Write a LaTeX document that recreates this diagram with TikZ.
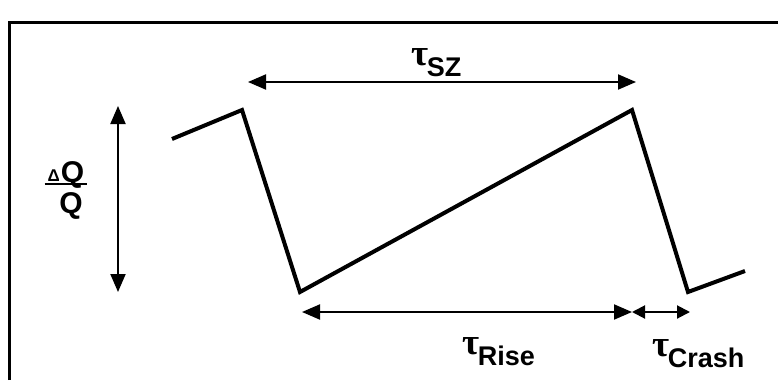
\documentclass[tikz,border=0pt]{standalone}
\usepackage{fontspec}
\setsansfont{Liberation Sans}
\newfontfamily\taufont{Liberation Serif}
\usetikzlibrary{arrows.meta, positioning}
\newcommand{\tausub}[1]{{\taufont\bfseries\fontsize{37}{37}\selectfont τ}\kern-1.5pt\raisebox{-11pt}{#1}}
\tikzset{
    font=\sffamily,
    >={Triangle[length=18pt,width=15pt]},
    % Lines
    frame/.style={line width=3pt},
    signal/.style={line width=4pt, line join=miter},
    span/.style={<->, line width=2pt},
    shortspan/.style={{Triangle[length=13pt,width=13pt]}-{Triangle[length=13pt,width=13pt]}, line width=2pt},
    % Labels
    lbl/.style={inner sep=0pt, font=\sffamily\bfseries\fontsize{27}{29}\selectfont},
    qlbl/.style={inner sep=0pt, anchor=base, font=\sffamily\bfseries\fontsize{30}{32}\selectfont},
}

\begin{document}
\begin{tikzpicture}[x=1pt, y=-1pt]
\useasboundingbox (0,0) rectangle (778,380);

% frame
\coordinate (frameBL) at (9,380);
\coordinate (frameTL) at (9,22);
\coordinate (frameTR) at (778,22);
\draw[frame] (frameBL) -- (frameTL) -- (frameTR);

% sawtooth
\coordinate (start) at (172,139);
\coordinate (peakA) at (242,110);
\coordinate (valleyA) at (300,292);
\coordinate (peakB) at (632,110);
\coordinate (valleyB) at (688,292);
\coordinate (stop) at (745,271);
\draw[signal] (start) -- (peakA) -- (valleyA) -- (peakB) -- (valleyB) -- (stop);

% period
\coordinate (szL) at (248,82);
\coordinate (szR) at (636,82);
\draw[span] (szL) -- (szR);
\node[lbl, above right=5pt and 163pt of szL] (tsz) {\tausub{SZ}};

% amplitude
\coordinate (dqT) at (118,106);
\coordinate (dqB) at (118,292);
\draw[span] (dqT) -- (dqB);
\node[qlbl, inner xsep=3pt] (dqnum) at (66,182) {\raisebox{1pt}{\fontsize{17}{17}\selectfont Δ}\kern1pt Q};
\node[qlbl] (dqden) at (71,213) {Q};
\draw[line width=2pt] ([yshift=-1.5pt]dqnum.base west) -- ([yshift=-1.5pt]dqnum.base east);

% rise and crash
\coordinate (riseL) at (302,312);
\coordinate (riseR) at (632,312);
\coordinate (crashR) at (690,312);
\draw[span] (riseL) -- (riseR);
\draw[shortspan] (riseR) -- (crashR);
\node[lbl, below right=25pt and 160pt of riseL] (trise) {\tausub{Rise}};
\node[lbl, below right=27pt and 20pt of riseR] (tcrash) {\tausub{Crash}};

\end{tikzpicture}
\end{document}
